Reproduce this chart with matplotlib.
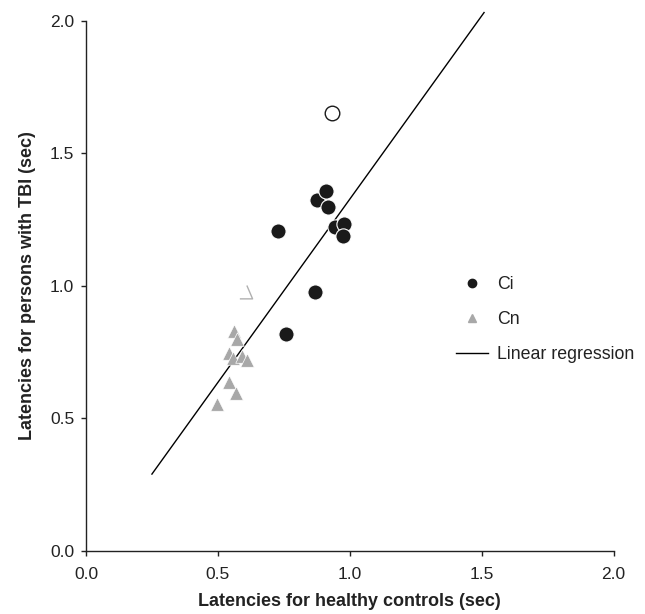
import matplotlib
matplotlib.use('Agg')
import matplotlib.pyplot as plt
from matplotlib.path import Path
from matplotlib.lines import Line2D

plt.rcParams['font.family'] = ['Liberation Sans', 'DejaVu Sans']

# Ci (filled circles)
ci_x = [0.729, 0.875, 0.910, 0.916, 0.944, 0.978, 0.976, 0.869, 0.758]
ci_y = [1.205, 1.322, 1.356, 1.297, 1.221, 1.232, 1.186, 0.977, 0.817]
# outlier (open circle)
open_x = [0.932]
open_y = [1.652]
# Cn (grey triangles)
cn_x = [0.561, 0.574, 0.543, 0.558, 0.590, 0.609, 0.543, 0.569, 0.496]
cn_y = [0.830, 0.801, 0.745, 0.726, 0.734, 0.719, 0.638, 0.596, 0.554]
# partial grey mark
odd_x = [0.609]
odd_y = [0.975]
# regression line end points
reg_x = [0.25, 1.509]
reg_y = [0.29, 2.03]

fig = plt.figure(figsize=(6.45, 6.14), dpi=100)
ax = fig.add_axes([0.1333, 0.1026, 0.818, 0.864])

ax.plot(reg_x, reg_y, color='black', lw=1.0, clip_on=False, zorder=1)
ax.scatter(cn_x, cn_y, marker='^', s=95, color='#a8a8a8', edgecolors='white',
           linewidths=0.5, zorder=2)
ax.scatter(ci_x, ci_y, marker='o', s=120, color='#1a1a1a', edgecolors='white',
           linewidths=0.8, zorder=3)
ax.scatter(open_x, open_y, marker='o', s=110, facecolors='white', edgecolors='#1a1a1a',
           linewidths=1.0, zorder=3)

# odd angle-shaped mark
angle = Path([(-0.05, 0.55), (0.4, -0.5), (-0.6, -0.5)],
             [Path.MOVETO, Path.LINETO, Path.LINETO])
ax.plot(odd_x, odd_y, marker=angle, markersize=11, mfc='none', mec='#b0b0b0',
        mew=1.0, ls='none', zorder=2)

ax.set_xlim(0, 2.0)
ax.set_ylim(0, 2.0)
ax.set_xticks([0.0, 0.5, 1.0, 1.5, 2.0])
ax.set_yticks([0.0, 0.5, 1.0, 1.5, 2.0])
ax.tick_params(direction='out', length=3.5, width=1, labelsize=12.5, colors='#222222')
ax.tick_params(axis='x', pad=8)
ax.tick_params(axis='y', pad=5)
for s in ['top', 'right']:
    ax.spines[s].set_visible(False)
for s in ['left', 'bottom']:
    ax.spines[s].set_linewidth(1.0)
    ax.spines[s].set_color('#222222')

ax.set_xlabel('Latencies for healthy controls (sec)', fontsize=13, fontweight='bold',
              color='#222222', labelpad=8)
ax.set_ylabel('Latencies for persons with TBI (sec)', fontsize=13, fontweight='bold',
              color='#222222', labelpad=10)

handles = [
    Line2D([], [], marker='o', color='#1a1a1a', ls='none', markersize=6),
    Line2D([], [], marker='^', color='#a8a8a8', ls='none', markersize=6),
    Line2D([], [], color='black', lw=1.0),
]
ax.legend(handles, ['Ci', 'Cn', 'Linear regression'], frameon=False, fontsize=12.8,
          loc='upper left', bbox_to_anchor=(0.671, 0.548), labelspacing=1.0,
          handlelength=1.8, handletextpad=0.5, labelcolor='#222222')

plt.savefig('out.png', dpi=100)
